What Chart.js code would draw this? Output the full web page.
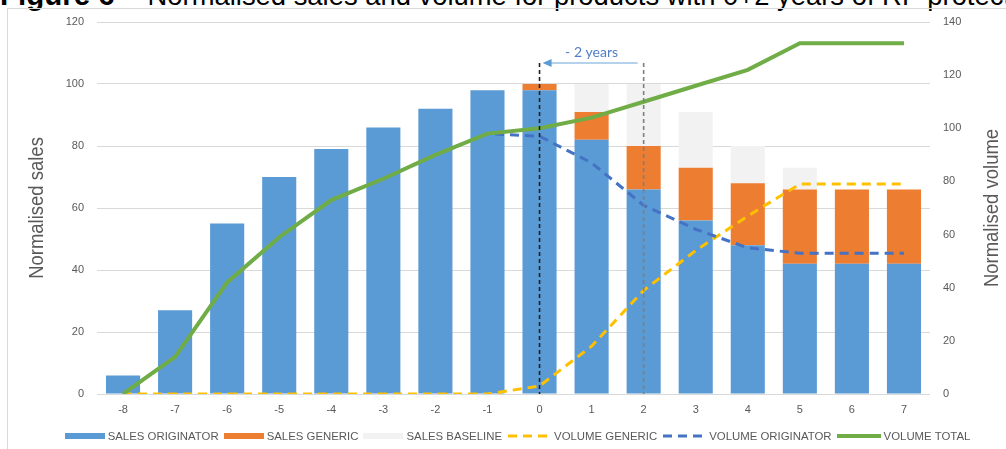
<!DOCTYPE html>
<html>
<head>
<meta charset="utf-8">
<script src="https://cdn.jsdelivr.net/npm/chart.js@4.4.1/dist/chart.umd.min.js"></script>
<style>
  html, body { margin:0; padding:0; background:#fff; width:1006px; height:449px; overflow:hidden; position:relative; }
  #title { position:absolute; left:0; top:-19px; font-family:"Liberation Sans", Arial, sans-serif; font-size:27.4px; line-height:28px; color:#000; white-space:nowrap; }
  #title b { font-size:29.5px; line-height:28px; }
  #frame { position:absolute; left:7px; top:8px; width:1100px; height:500px; border-left:1px solid #d9d9d9; border-top:1px solid #d9d9d9; }
  #wrap { position:absolute; left:0; top:0; width:1006px; height:449px; }
  #legend { position:absolute; left:17px; width:1006px; top:429px; height:14px; display:flex; justify-content:center; align-items:center;
            font-family:"Liberation Sans",Arial,sans-serif; font-size:11.4px; color:#595959; white-space:nowrap; }
  .item { display:flex; align-items:center; margin-right:5px; }
  .item svg { margin-right:3px; }
</style>
</head>
<body>
<div id="title"><b>Figure 6 – </b>Normalised sales and volume for products with 0+2 years of RP protection</div>
<div id="frame"></div>
<div id="wrap"><canvas id="c"></canvas></div>
<div id="legend"></div>
<script>
const categories = ["-8","-7","-6","-5","-4","-3","-2","-1","0","1","2","3","4","5","6","7"];
const salesOriginator = [6,27,55,70,79,86,92,98,98,82,66,56,48,42,42,42];
const salesGeneric    = [0,0,0,0,0,0,0,0,2,9,14,17,20,24,24,24];
const salesBaseline   = [0,0,0,0,0,0,0,0,0,9,20,18,12,7,0,0];
const volumeGeneric    = [0,0,0,0,0,0,0,0,3,18,39,54,67,79,79,79];
const volumeOriginator = [0,14,42,59,73,81,90,98,97,87,71,62,55,53,53,53];
const volumeTotal      = [0,14,42,59,73,81,90,98,100,104,110,116,122,132,132,132];
const salesTicks = [0,20,40,60,80,100,120];
const volumeTicks = [0,20,40,60,80,100,120,140];
const labels = ["SALES ORIGINATOR","SALES GENERIC","SALES BASELINE","VOLUME GENERIC","VOLUME ORIGINATOR","VOLUME TOTAL"];
const markerFrom = "2", markerTo = "0", markerText = "- 2 years";

const C = { orig:"#5B9BD5", gen:"#ED7D31", base:"#F2F2F2", vgen:"#FFC000", vorig:"#4472C4", vtot:"#70AD47" };
const tickFont = { family:"'Liberation Sans', Arial, sans-serif", size:11 };

function axisTitle(ctx, text, x, y){
  ctx.save();
  ctx.fillStyle = "#595959";
  ctx.font = "21px 'Liberation Sans', Arial, sans-serif";
  ctx.textAlign = "center"; ctx.textBaseline = "middle";
  ctx.translate(x, y); ctx.rotate(-Math.PI/2); ctx.scale(0.88, 1);
  ctx.fillText(text, 0, 0);
  ctx.restore();
}

const overlay = {
  id:"overlay",
  afterDatasetsDraw(chart){
    const {ctx} = chart;
    const x = chart.scales.x, y = chart.scales.y;
    const xTo = x.getPixelForValue(categories.indexOf(markerTo));
    const xFrom = x.getPixelForValue(categories.indexOf(markerFrom));
    const top = 63, bottom = y.getPixelForValue(0);
    ctx.save();
    ctx.lineWidth = 1.6;
    ctx.setLineDash([4,3]);
    ctx.strokeStyle = "#7f7f7f";
    ctx.beginPath(); ctx.moveTo(xFrom, top); ctx.lineTo(xFrom, bottom); ctx.stroke();
    ctx.strokeStyle = "#1f1f1f";
    ctx.beginPath(); ctx.moveTo(xTo, top); ctx.lineTo(xTo, bottom); ctx.stroke();
    ctx.setLineDash([]);
    ctx.strokeStyle = "#9DC3E6"; ctx.lineWidth = 1.5;
    ctx.beginPath(); ctx.moveTo(xFrom - 6, top); ctx.lineTo(xTo + 10, top); ctx.stroke();
    ctx.fillStyle = "#5B9BD5";
    ctx.beginPath(); ctx.moveTo(xTo + 3, top); ctx.lineTo(xTo + 12, top - 4); ctx.lineTo(xTo + 12, top + 4); ctx.closePath(); ctx.fill();
    ctx.fillStyle = "#4F7FC4";
    ctx.font = "14px Lato, 'Liberation Sans', sans-serif";
    ctx.textAlign = "center"; ctx.textBaseline = "middle";
    ctx.fillText(markerText, (xFrom + xTo)/2, 52);
    ctx.restore();
  },
  afterDraw(chart){
    axisTitle(chart.ctx, "Normalised sales", 37, 208);
    axisTitle(chart.ctx, "Normalised volume", 992, 208);
  }
};

new Chart(document.getElementById("c"), {
  data: {
    labels: categories,
    datasets: [
      { type:"line", label:labels[5], data:volumeTotal, yAxisID:"y2", borderColor:C.vtot, borderWidth:4, pointRadius:0, tension:0, order:1, fill:false },
      { type:"line", label:labels[4], data:volumeOriginator, yAxisID:"y2", borderColor:C.vorig, borderWidth:3, borderDash:[9,6], pointRadius:0, tension:0, order:2, fill:false },
      { type:"line", label:labels[3], data:volumeGeneric, yAxisID:"y2", borderColor:C.vgen, borderWidth:3, borderDash:[9,6], pointRadius:0, tension:0, order:3, fill:false },
      { type:"bar", label:labels[0], data:salesOriginator, backgroundColor:C.orig, yAxisID:"y", order:10, barPercentage:0.655, categoryPercentage:1 },
      { type:"bar", label:labels[1], data:salesGeneric, backgroundColor:C.gen, yAxisID:"y", order:11, barPercentage:0.655, categoryPercentage:1 },
      { type:"bar", label:labels[2], data:salesBaseline, backgroundColor:C.base, yAxisID:"y", order:12, barPercentage:0.655, categoryPercentage:1 }
    ]
  },
  options: {
    responsive:true, maintainAspectRatio:false, animation:false,
    layout:{ padding:{ top:22, left:0, right:0, bottom:0 } },
    plugins:{ legend:{display:false}, tooltip:{enabled:false} },
    scales:{
      x:{ stacked:true, grid:{display:false, drawTicks:false}, border:{display:false},
          ticks:{ color:"#595959", font:tickFont, padding:9, maxRotation:0 },
          afterFit(s){ s.height = 55; } },
      y:{ stacked:true, position:"left", min:0, max:120,
          grid:{ color:"#d9d9d9", lineWidth:1, drawTicks:false }, border:{display:false},
          afterBuildTicks(s){ s.ticks = salesTicks.map(v=>({value:v})); },
          ticks:{ color:"#595959", font:tickFont, padding:13 },
          afterFit(s){ s.width = 97; } },
      y2:{ position:"right", min:0, max:140,
          grid:{ display:false, drawTicks:false }, border:{display:false},
          afterBuildTicks(s){ s.ticks = volumeTicks.map(v=>({value:v})); },
          ticks:{ color:"#595959", font:tickFont, padding:13 },
          afterFit(s){ s.width = 76; } }
    }
  },
  plugins:[overlay]
});

const swatches = [
  {t:"bar", c:C.orig},{t:"bar", c:C.gen},{t:"bar", c:C.base},
  {t:"dash", c:C.vgen},{t:"dash", c:C.vorig},{t:"solid", c:C.vtot}
];
const leg = document.getElementById("legend");
labels.forEach((lab,i)=>{
  const s = swatches[i];
  const it = document.createElement("div"); it.className = "item";
  let svg;
  if (s.t === "bar") svg = `<svg width="40" height="8"><rect x="0" y="1" width="40" height="6" fill="${s.c}"/></svg>`;
  else if (s.t === "dash") svg = `<svg width="44" height="8"><line x1="1" y1="4" x2="43" y2="4" stroke="${s.c}" stroke-width="3" stroke-dasharray="9,6"/></svg>`;
  else svg = `<svg width="44" height="8"><line x1="0" y1="4" x2="44" y2="4" stroke="${s.c}" stroke-width="4"/></svg>`;
  it.innerHTML = svg + `<span>${lab}</span>`;
  leg.appendChild(it);
});
</script>
</body>
</html>
